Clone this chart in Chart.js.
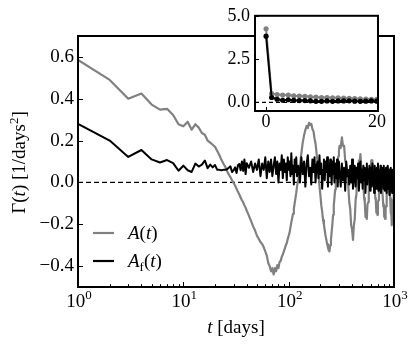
<!DOCTYPE html>
<html>
<head>
<meta charset="utf-8">
<script src="https://cdn.jsdelivr.net/npm/chart.js@4"></script>
<style>
  html, body { margin: 0; padding: 0; background: #fff; }
  #wrap { position: relative; width: 415px; height: 344px; }
  canvas { position: absolute; }
  #mainChart { left: 0; top: 0; }
  #insetChart { left: 205px; top: 0; }
</style>
</head>
<body>
<div id="wrap">
  <canvas id="mainChart" width="415" height="344"></canvas>
  <canvas id="insetChart" width="190" height="140"></canvas>
</div>
<script>
(function () {
    // days sampled: daily up to 40, then coarser (start, end, step)
    const dayRanges = [[1, 40, 1], [42, 120, 2], [124, 300, 4], [304, 1000, 8]];

    // A(t), gray
    const aTotal = [
        0.585, 0.49, 0.40, 0.425, 0.372, 0.348, 0.352, 0.322, 0.278, 0.268,
        0.29, 0.252, 0.278, 0.262, 0.236, 0.228, 0.2, 0.19, 0.18, 0.17,
        0.15, 0.13, 0.108, 0.09, 0.075, 0.055, 0.038, 0.025, 0.01, -0.003,
        -0.015, -0.03, -0.045, -0.058, -0.072, -0.085, -0.095, -0.11, -0.12, -0.135,
        // 42..120
        -0.16, -0.185, -0.21, -0.23, -0.255, -0.27, -0.285, -0.295, -0.31, -0.33,
        -0.35, -0.385, -0.40, -0.425, -0.41, -0.44, -0.41, -0.425, -0.395, -0.41,
        -0.38, -0.375, -0.355, -0.345, -0.33, -0.315, -0.30, -0.29, -0.27, -0.255,
        -0.24, -0.215, -0.19, -0.17, -0.15, -0.125, -0.1, -0.075, -0.05, -0.02,
        // 124..300
        0.02, 0.08, 0.14, 0.19, 0.225, 0.25, 0.27, 0.26, 0.285, 0.275,
        0.28, 0.255, 0.245, 0.21, 0.185, 0.14, 0.095, 0.04, -0.015, -0.06,
        -0.11, -0.14, -0.18, -0.2, -0.23, -0.255, -0.275, -0.295, -0.31, -0.325,
        -0.33, -0.3, -0.275, -0.235, -0.2, -0.155, -0.11, -0.075, -0.035, 0.0,
        0.04, 0.07, 0.1, 0.125, 0.15,
        // 304..1000
        0.175, 0.165, 0.215, 0.175, 0.175, 0.105, 0.085, 0.015, -0.015, -0.095,
        -0.125, -0.205, -0.225, -0.275, -0.205, -0.175, -0.085, -0.055, 0.025, 0.035,
        0.105, 0.095, 0.135, 0.085, 0.085, 0.015, -0.005, -0.075, -0.095, -0.165,
        -0.165, -0.175, -0.105, -0.095, -0.015, -0.015, 0.055, 0.045, 0.105, 0.085,
        0.105, 0.055, 0.055, -0.005, -0.015, -0.075, -0.085, -0.145, -0.135, -0.155,
        -0.095, -0.085, -0.015, -0.015, 0.045, 0.005, 0.065, 0.025, 0.025, -0.045,
        -0.045, -0.115, -0.105, -0.165, -0.115, -0.175, -0.125, -0.115, -0.055, -0.045,
        0.025, 0.015, 0.065, 0.025, 0.065, 0.005, -0.005, -0.075, -0.085, -0.145,
        -0.155, -0.205, -0.155, -0.155, -0.085, -0.085, -0.025, -0.035
    ];

    // A_f(t), black
    const aFiltered = [
        0.28, 0.20, 0.122, 0.155, 0.11, 0.095, 0.107, 0.092, 0.056, 0.08,
        0.058, 0.05, 0.09, 0.076, 0.085, 0.105, 0.068, 0.085, 0.072, 0.083,
        0.06, 0.06, 0.058, 0.06, 0.06, 0.063, 0.07, 0.077, 0.05, 0.058,
        0.072, 0.045, 0.082, 0.088, 0.058, 0.1, 0.055, 0.11, 0.04, 0.092,
        // 42..120
        0.07, 0.1, 0.05, 0.09, 0.06, 0.11, 0.03, 0.09, 0.06, 0.12,
        0.02, 0.1, 0.05, 0.11, 0.03, 0.08, 0.12, 0.04, 0.1, 0.0,
        0.09, 0.06, 0.13, 0.02, 0.11, 0.05, 0.09, 0.01, 0.12, 0.06,
        0.1, 0.03, 0.14, 0.04, 0.08, -0.01, 0.11, 0.05, 0.12, 0.03,
        // 124..300
        0.08, 0.0, 0.12, 0.04, 0.1, -0.02, 0.09, 0.13, 0.03, 0.07,
        -0.01, 0.11, 0.05, 0.12, 0.0, 0.08, 0.1, 0.02, 0.13, 0.04,
        0.09, -0.03, 0.06, 0.11, 0.01, 0.1, 0.05, 0.12, -0.02, 0.08,
        0.03, 0.11, 0.06, -0.01, 0.1, 0.04, 0.12, 0.0, 0.07, 0.09,
        0.02, 0.11, -0.02, 0.06, 0.1,
        // 304..1000
        0.05, -0.02, 0.09, 0.01, 0.07, -0.04, 0.1, 0.03, 0.06, -0.01,
        0.08, 0.0, 0.11, -0.03, 0.05, 0.08, -0.02, 0.07, 0.02, 0.09,
        -0.04, 0.04, 0.1, 0.0, 0.06, -0.03, 0.08, 0.01, 0.07, -0.05,
        0.05, 0.09, -0.01, 0.06, 0.02, 0.08, -0.04, 0.03, 0.07, -0.02,
        0.09, 0.0, 0.05, -0.05, 0.08, 0.02, 0.06, -0.03, 0.07, 0.01,
        0.09, -0.04, 0.04, 0.06, -0.02, 0.08, -0.05, 0.03, 0.07, 0.0,
        0.05, -0.03, 0.08, 0.01, -0.04, 0.06, 0.02, 0.07, -0.05, 0.04,
        0.0, 0.08, -0.03, 0.05, 0.02, -0.06, 0.06, 0.0, 0.07, -0.04,
        0.03, 0.05, -0.05, 0.06, -0.01, 0.04, -0.03, 0.02
    ];

    const yTickValues = [-0.4, -0.2, 0, 0.2, 0.4, 0.6];
    const xTickDecades = [1, 10, 100, 1000];

    // inset: first 20 days with markers
    const insetDays = [0, 1, 2, 3, 4, 5, 6, 7, 8, 9, 10, 11, 12, 13, 14, 15, 16, 17, 18, 19, 20];
    const insetTotal = [4.25, 0.5, 0.45, 0.42, 0.42, 0.38, 0.36, 0.35, 0.32, 0.3, 0.28,
        0.28, 0.26, 0.26, 0.24, 0.23, 0.22, 0.2, 0.19, 0.18, 0.17];
    const insetFiltered = [3.82, 0.28, 0.18, 0.12, 0.15, 0.11, 0.1, 0.1, 0.09, 0.06, 0.06,
        0.08, 0.06, 0.08, 0.08, 0.09, 0.07, 0.06, 0.07, 0.08, 0.07];
    const insetXTicks = [0, 20];
    const insetYTicks = [0, 2.5, 5];

    const SERIF = '"Liberation Serif", "Times New Roman", serif';
    const font = (size, style) => (style ? style + ' ' : '') + size + 'px ' + SERIF;
    const GRAY = '#808080';

    const days = [];
    dayRanges.forEach(([a, b, s]) => { for (let d = a; d <= b; d += s) days.push(d); });
    const toPoints = (xs, ys) => xs.map((x, i) => ({ x: x, y: ys[i] }));

    // draw a row of text pieces (for italics / sub- and superscripts)
    function drawRuns(ctx, runs, x, y, align) {
        let w = 0;
        runs.forEach(r => { ctx.font = r.font; w += ctx.measureText(r.text).width; });
        let cx = align === 'center' ? x - w / 2 : x;
        ctx.textAlign = 'left';
        ctx.textBaseline = 'alphabetic';
        runs.forEach(r => {
            ctx.font = r.font;
            ctx.fillText(r.text, cx, y + (r.dy || 0));
            cx += ctx.measureText(r.text).width;
        });
    }

    function zeroLine(chart, dash) {
        const ctx = chart.ctx, a = chart.chartArea;
        const y0 = chart.scales.y.getPixelForValue(0);
        ctx.save();
        ctx.strokeStyle = '#000';
        ctx.lineWidth = 1.4;
        ctx.setLineDash(dash);
        ctx.beginPath();
        ctx.moveTo(a.left, y0);
        ctx.lineTo(a.right, y0);
        ctx.stroke();
        ctx.restore();
    }

    const mainDecor = {
        id: 'mainDecor',
        beforeDatasetsDraw(chart) { zeroLine(chart, [5, 3]); },
        afterDraw(chart) {
            const ctx = chart.ctx, a = chart.chartArea;
            const xs = chart.scales.x, ys = chart.scales.y;
            ctx.save();
            ctx.strokeStyle = '#000';
            ctx.fillStyle = '#000';
            ctx.lineWidth = 1;
            ctx.beginPath();
            xTickDecades.forEach(d => {
                const px = Math.round(xs.getPixelForValue(d)) + 0.5;
                ctx.moveTo(px, a.bottom); ctx.lineTo(px, a.bottom - 5);
                if (d < 1000) {
                    for (let k = 2; k <= 9; k++) {
                        const mx = Math.round(xs.getPixelForValue(d * k)) + 0.5;
                        ctx.moveTo(mx, a.bottom); ctx.lineTo(mx, a.bottom - 2.8);
                    }
                }
            });
            yTickValues.forEach(v => {
                const py = Math.round(ys.getPixelForValue(v)) + 0.5;
                ctx.moveTo(a.left, py); ctx.lineTo(a.left + 5, py);
            });
            ctx.stroke();

            ctx.lineWidth = 2;
            ctx.strokeRect(a.left, a.top, a.right - a.left, a.bottom - a.top);

            // x tick labels 10^n
            xTickDecades.forEach((d, i) => {
                drawRuns(ctx, [
                    { text: '10', font: font(19) },
                    { text: String(i), font: font(13), dy: -7.5 }
                ], xs.getPixelForValue(d) + 1, 306.5, 'center');
            });

            // axis titles
            drawRuns(ctx, [
                { text: 't', font: font(19, 'italic') },
                { text: ' [days]', font: font(19) }
            ], (a.left + a.right) / 2, 333, 'center');

            ctx.save();
            ctx.translate(25, (a.top + a.bottom) / 2 + 1);
            ctx.rotate(-Math.PI / 2);
            drawRuns(ctx, [
                { text: 'Γ(', font: font(19) },
                { text: 't', font: font(19, 'italic') },
                { text: ') [1/days', font: font(19) },
                { text: '2', font: font(13), dy: -7.5 },
                { text: ']', font: font(19) }
            ], 0, 0, 'center');
            ctx.restore();

            // legend
            const legend = [
                { color: GRAY, y: 233, runs: [
                    { text: 'A', font: font(19, 'italic') },
                    { text: '(', font: font(19) },
                    { text: 't', font: font(19, 'italic') },
                    { text: ')', font: font(19) }] },
                { color: '#000', y: 261, runs: [
                    { text: 'A', font: font(19, 'italic') },
                    { text: 'f', font: font(13), dy: 4 },
                    { text: '(', font: font(19) },
                    { text: 't', font: font(19, 'italic') },
                    { text: ')', font: font(19) }] }
            ];
            legend.forEach(item => {
                ctx.strokeStyle = item.color;
                ctx.lineWidth = 2.2;
                ctx.beginPath();
                ctx.moveTo(93, item.y); ctx.lineTo(114, item.y);
                ctx.stroke();
                ctx.fillStyle = '#000';
                drawRuns(ctx, item.runs, 128, item.y + 5.5, 'left');
            });
            ctx.restore();
        }
    };

    new Chart(document.getElementById('mainChart'), {
        type: 'line',
        data: {
            datasets: [{
                label: 'A(t)',
                data: toPoints(days, aTotal),
                borderColor: GRAY,
                borderWidth: 2.2,
                pointRadius: 0,
                tension: 0,
                borderJoinStyle: 'round',
                order: 1
            }, {
                label: 'A_f(t)',
                data: toPoints(days, aFiltered),
                borderColor: '#000',
                borderWidth: 2,
                pointRadius: 0,
                tension: 0,
                borderJoinStyle: 'round',
                order: 0
            }]
        },
        options: {
            responsive: false,
            animation: false,
            devicePixelRatio: 1,
            events: [],
            layout: { padding: { left: 0, top: 36, right: 21, bottom: 0 } },
            plugins: { legend: { display: false }, tooltip: { enabled: false } },
            scales: {
                x: {
                    type: 'logarithmic',
                    min: 1,
                    max: 1000,
                    ticks: { display: false },
                    grid: { display: false, drawTicks: false },
                    border: { display: false },
                    afterFit: s => { s.height = 57; }
                },
                y: {
                    min: -0.5,
                    max: 0.7,
                    afterBuildTicks: s => { s.ticks = yTickValues.map(v => ({ value: v })); },
                    ticks: {
                        padding: 4,
                        color: '#000',
                        font: { family: SERIF, size: 19 },
                        callback: v => (v < -1e-9 ? '\u2212' : '') + Math.abs(v).toFixed(1)
                    },
                    grid: { display: false, drawTicks: false },
                    border: { display: false },
                    afterFit: s => { s.width = 78; }
                }
            }
        },
        plugins: [mainDecor]
    });

    const insetDecor = {
        id: 'insetDecor',
        beforeDraw(chart) {
            const ctx = chart.ctx, a = chart.chartArea;
            ctx.save();
            ctx.fillStyle = '#fff';
            ctx.fillRect(a.left, a.top, a.right - a.left, a.bottom - a.top);
            ctx.restore();
        },
        beforeDatasetsDraw(chart) { zeroLine(chart, [4, 3]); },
        afterDraw(chart) {
            const ctx = chart.ctx, a = chart.chartArea;
            const xs = chart.scales.x, ys = chart.scales.y;
            ctx.save();
            ctx.strokeStyle = '#000';
            ctx.fillStyle = '#000';
            ctx.lineWidth = 1;
            ctx.beginPath();
            insetXTicks.forEach(v => {
                const px = Math.round(xs.getPixelForValue(v)) + 0.5;
                ctx.moveTo(px, a.bottom); ctx.lineTo(px, a.bottom - 4);
            });
            insetYTicks.forEach(v => {
                const py = Math.round(ys.getPixelForValue(v)) + 0.5;
                ctx.moveTo(a.left, py); ctx.lineTo(a.left + 4, py);
            });
            ctx.stroke();
            ctx.lineWidth = 2;
            ctx.strokeRect(a.left, a.top, a.right - a.left, a.bottom - a.top);
            insetXTicks.forEach(v => {
                drawRuns(ctx, [{ text: String(v), font: font(18) }], xs.getPixelForValue(v), 126.5, 'center');
            });
            ctx.restore();
        }
    };

    new Chart(document.getElementById('insetChart'), {
        type: 'line',
        data: {
            datasets: [{
                data: toPoints(insetDays, insetTotal),
                borderColor: GRAY,
                backgroundColor: GRAY,
                borderWidth: 2,
                pointRadius: 2.6,
                pointBorderWidth: 0,
                tension: 0,
                order: 1
            }, {
                data: toPoints(insetDays, insetFiltered),
                borderColor: '#000',
                backgroundColor: '#000',
                borderWidth: 2,
                pointRadius: 2.6,
                pointBorderWidth: 0,
                tension: 0,
                order: 0
            }]
        },
        options: {
            responsive: false,
            animation: false,
            devicePixelRatio: 1,
            events: [],
            layout: { padding: { left: 0, top: 13, right: 17, bottom: 0 } },
            plugins: { legend: { display: false }, tooltip: { enabled: false } },
            scales: {
                x: {
                    type: 'linear',
                    min: -2,
                    max: 20.2,
                    ticks: { display: false },
                    grid: { display: false, drawTicks: false },
                    border: { display: false },
                    afterFit: s => { s.height = 29; }
                },
                y: {
                    min: -0.5,
                    max: 5,
                    afterBuildTicks: s => { s.ticks = insetYTicks.map(v => ({ value: v })); },
                    ticks: {
                        padding: 5,
                        color: '#000',
                        font: { family: SERIF, size: 18 },
                        callback: v => v.toFixed(1)
                    },
                    grid: { display: false, drawTicks: false },
                    border: { display: false },
                    afterFit: s => { s.width = 50; }
                }
            }
        },
        plugins: [insetDecor]
    });
})();
</script>
</body>
</html>
